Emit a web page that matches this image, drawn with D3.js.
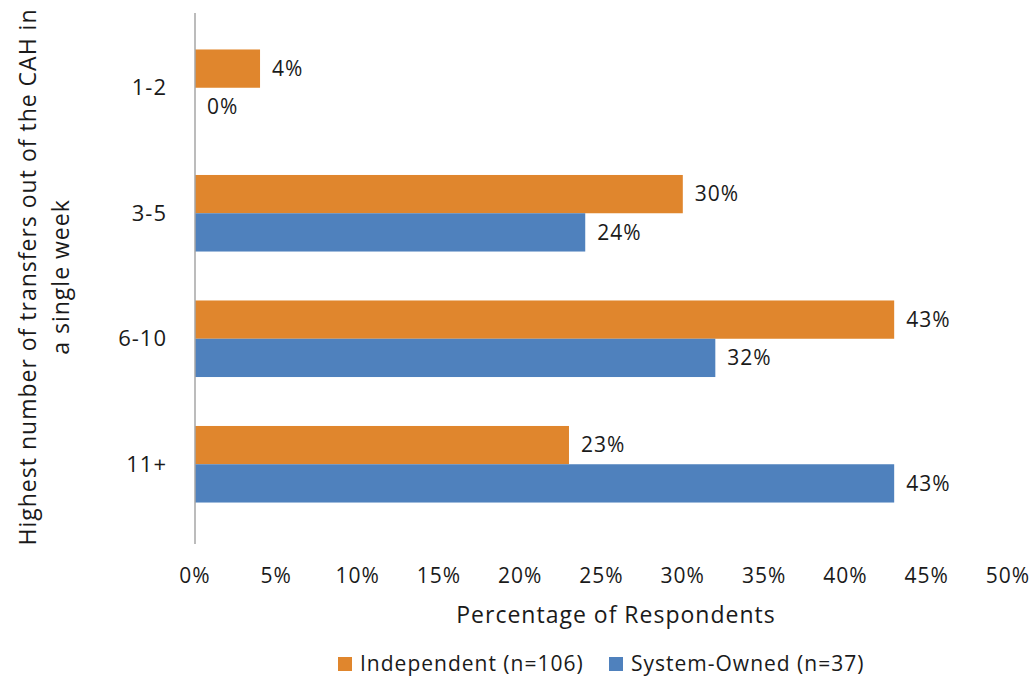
<!DOCTYPE html>
<html lang="en">
<head>
  <meta charset="UTF-8">
  <title>Transfers out of the CAH</title>
  <script src="https://d3js.org/d3.v7.min.js"></script>
  <style>
    body { margin: 0; background: #fff; font-family: "Open Sans", sans-serif; }
    text { fill: #1a1a1a; letter-spacing: 1px; }
  </style>
</head>
<body>
  <div id="chart"></div>
  <script>
    // data
    const categories = ["1-2", "3-5", "6-10", "11+"];
    const independent = [4, 30, 43, 23];
    const systemOwned = [0, 24, 32, 43];
    const seriesNames = ["Independent (n=106)", "System-Owned (n=37)"];
    const xTicks = [0, 5, 10, 15, 20, 25, 30, 35, 40, 45, 50];

    const colors = ["#e0862d", "#4f81bd"];
    const W = 1032, H = 685;
    const plot = { left: 195, right: 1008, top: 13, bottom: 544 };

    const svg = d3.select("#chart").append("svg")
      .attr("width", W).attr("height", H);

    const x = d3.scaleLinear().domain([0, 50]).range([plot.left, plot.right]);
    const y = d3.scaleBand().domain(categories).range([25, 527])
      .paddingInner(0.39).paddingOuter(0.195);
    const sub = d3.scaleBand().domain([0, 1]).range([0, y.bandwidth()]);

    const rows = categories.map((c, i) => ({ cat: c, vals: [independent[i], systemOwned[i]] }));

    // bars
    const g = svg.selectAll(".row").data(rows).enter().append("g")
      .attr("transform", d => `translate(0,${y(d.cat)})`);

    g.selectAll("rect").data(d => d.vals).enter().append("rect")
      .attr("x", x(0))
      .attr("y", (d, i) => sub(i))
      .attr("width", d => x(d) - x(0))
      .attr("height", sub.bandwidth())
      .attr("fill", (d, i) => colors[i]);

    g.selectAll(".lbl").data(d => d.vals).enter().append("text")
      .attr("class", "lbl")
      .attr("x", d => x(d) + 12)
      .attr("y", (d, i) => sub(i) + sub.bandwidth() / 2)
      .attr("dy", "0.35em")
      .style("font-size", "21px")
      .text(d => d + "%");

    // vertical axis line
    svg.append("line")
      .attr("x1", x(0)).attr("x2", x(0))
      .attr("y1", plot.top).attr("y2", plot.bottom)
      .attr("stroke", "#a6a6a6").attr("stroke-width", 1.5);

    // category labels
    svg.selectAll(".cat").data(categories).enter().append("text")
      .attr("x", 167)
      .attr("y", d => y(d) + y.bandwidth() / 2)
      .attr("dy", "0.35em")
      .attr("text-anchor", "end")
      .style("font-size", "22px")
      .text(d => d);

    // x tick labels
    svg.selectAll(".xt").data(xTicks).enter().append("text")
      .attr("x", d => x(d))
      .attr("y", 576)
      .attr("dy", "0.35em")
      .attr("text-anchor", "middle")
      .style("font-size", "21px")
      .text(d => d + "%");

    svg.append("text")
      .attr("x", 616).attr("y", 615).attr("dy", "0.35em")
      .attr("text-anchor", "middle")
      .style("font-size", "23px")
      .text("Percentage of Respondents");

    // y axis title
    const yt = svg.append("text")
      .attr("transform", "translate(28,277) rotate(-90)")
      .attr("text-anchor", "middle")
      .style("font-size", "23px");
    yt.append("tspan").attr("x", 0).attr("dy", "0.35em")
      .text("Highest number of transfers out of the CAH in");
    yt.append("tspan").attr("x", 0).attr("dy", "1.45em").text("a single week");

    // legend
    const legX = [338, 609];
    const leg = svg.selectAll(".leg").data(seriesNames).enter().append("g")
      .attr("transform", (d, i) => `translate(${legX[i]},657)`);
    leg.append("rect").attr("width", 14).attr("height", 14)
      .attr("fill", (d, i) => colors[i]);
    leg.append("text").attr("x", 22).attr("y", 7).attr("dy", "0.35em")
      .style("font-size", "21px").text(d => d);
  </script>
</body>
</html>
